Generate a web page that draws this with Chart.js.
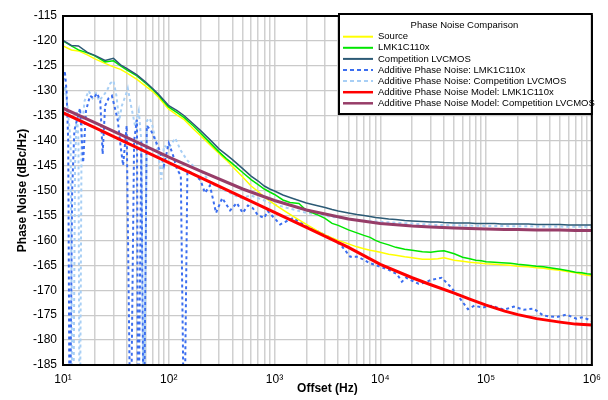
<!DOCTYPE html>
<html><head><meta charset="utf-8">
<script src="https://cdn.jsdelivr.net/npm/chart.js@4.4.1/dist/chart.umd.min.js"></script>
<style>html,body{margin:0;padding:0;background:#fff}</style>
</head><body>
<canvas id="c" width="608" height="400"></canvas>
<script>
// ---------- DATA ----------
const legendTitle = 'Phase Noise Comparison';
const xTitle = 'Offset (Hz)';
const yTitle = 'Phase Noise (dBc/Hz)';
const xDecades = [10, 100, 1000, 10000, 100000, 1000000];
const xDecadeLabels = ['10\u00B9', '10\u00B2', '10\u00B3', '10\u2074', '10\u2075', '10\u2076'];

const measF = [10,12,14,17,20,25,30,35,40,50,60,70,80,90,
  100,120,140,170,200,250,300,350,400,500,600,700,800,900,
  1000,1200,1400,1700,2000,2500,3000,3500,4000,5000,6000,7000,8000,9000,
  10000,12000,14000,17000,20000,25000,30000,35000,40000,50000,60000,70000,80000,90000,
  100000,120000,140000,170000,200000,250000,300000,350000,400000,500000,600000,700000,800000,900000,1000000];

const sourceV = [-121.0,-121.8,-122.0,-122.8,-123.6,-124.5,-125.2,-125.7,-126.4,-127.7,-129.0,-130.1,-131.3,-132.6,
  -133.7,-134.9,-135.8,-137.6,-139.0,-141.0,-142.6,-143.9,-145.2,-147.3,-149.1,-150.2,-151.3,-152.1,
  -152.8,-153.9,-154.8,-155.9,-156.8,-158.0,-158.9,-159.5,-160.0,-160.7,-161.3,-161.7,-162.0,-162.2,
  -162.4,-162.8,-163.0,-163.3,-163.5,-163.8,-163.8,-163.7,-163.5,-164.0,-164.2,-164.4,-164.5,-164.6,
  -164.7,-164.8,-164.9,-165.0,-165.2,-165.3,-165.5,-165.6,-165.8,-166.0,-166.3,-166.5,-166.8,-167.0,-167.1];

const lmkV = [-120.0,-121.0,-121.8,-122.4,-123.0,-124.2,-124.0,-125.0,-125.8,-127.0,-128.4,-129.7,-130.9,-132.2,
  -133.3,-134.4,-135.4,-137.0,-138.5,-140.6,-142.3,-143.6,-144.6,-146.4,-147.8,-148.8,-149.7,-150.3,
  -150.8,-151.9,-152.4,-152.6,-154.0,-154.8,-155.6,-156.6,-157.0,-157.9,-158.5,-159.0,-159.4,-160.0,
  -160.4,-160.9,-161.4,-161.8,-162.0,-162.3,-162.4,-162.2,-162.1,-162.7,-163.4,-163.7,-164.0,-164.1,
  -164.3,-164.4,-164.5,-164.6,-164.8,-165.0,-165.2,-165.3,-165.5,-165.8,-166.1,-166.4,-166.5,-166.7,-166.8];

const compV = [-119.9,-120.9,-121.0,-122.3,-122.9,-123.9,-123.5,-124.8,-125.5,-126.8,-128.2,-129.5,-130.7,-131.9,
  -133.0,-134.0,-135.0,-136.6,-138.0,-140.0,-141.7,-142.8,-143.8,-145.6,-147.1,-148.1,-149.1,-149.7,
  -150.1,-150.9,-151.4,-152.0,-152.5,-153.0,-153.4,-153.8,-154.1,-154.5,-154.8,-155.0,-155.2,-155.4,
  -155.5,-155.7,-155.8,-156.0,-156.1,-156.2,-156.3,-156.3,-156.4,-156.5,-156.5,-156.5,-156.6,-156.6,
  -156.6,-156.6,-156.7,-156.7,-156.7,-156.7,-156.8,-156.8,-156.8,-156.8,-156.9,-156.9,-156.9,-156.9,-156.9];

const addLmkF = [10,10.4,10.8,11.2,11.55,11.6,11.65,12.2,12.8,13.5,14.5,15.5,16.5,18,19.5,21,22.5,23.7,25,27,29,31,33,35,37,40,
  43.4,43.6,43.8,47,50,51.3,51.5,51.7,55,57.8,58,58.2,62,68,75,82,90,100,110,120,130,139.5,140,140.5,150,165,180,200,220,245,280,320,380,440,500,560,620,700,800,
  860,1130,1500,1860,2500,3570,4300,5200,6200,7800,10000,12000,14400,16000,17500,20500,23000,26000,30600,38000,47100,54200,67300,77600,92700,111000,148000,183000,227000,282000,349000,465000,575000,714000,824000,953000,1000000];
const addLmkV = [-128,-126,-130,-140,-200,-200,-200,-150,-138,-136,-133.5,-144.4,-134,-131,-131.5,-130.5,-132,-142.7,-133,-131.5,-131,-133.5,-136,-141,-145,-137,
  -200,-200,-200,-140,-135.8,-200,-200,-200,-140,-200,-200,-200,-137,-138,-140,-142,-145,-140.5,-143,-145.8,-147,-200,-200,-200,-146,-146.5,-147,-148,-150.5,-149,-154.5,-151.5,-154,-152.5,-154.5,-153,-153.5,-155,-155.5,
  -154.1,-156.8,-155.5,-156.8,-158.1,-159.7,-161.1,-163.3,-163.3,-164.5,-165.3,-165.9,-166.8,-168.3,-167.5,-168.2,-168.7,-168.5,-167.9,-167.5,-169.5,-171.1,-173.8,-173.1,-173.5,-173.1,-173.9,-173.3,-173.9,-173.7,-175.1,-175.4,-174.9,-175.7,-175.4,-176.0,-176.2];

const addCompF = [10,10.5,11,11.8,12.3,12.4,12.5,13,13.5,14,14.35,14.4,14.45,15,16,17.5,19,20.5,22,24,26,28,30,32,34,36,39,41,44,48,52,55,57.8,58,58.2,62,66,70,75,80,85,90,
  100,115,130,150,180,210,250,300,380,470,600,800,1000,2000,3570,7310,15000,33000,100000,300000,1000000];
const addCompV = [-131,-129,-133,-140,-200,-200,-200,-145,-134,-140,-200,-200,-200,-138,-132,-130,-131.5,-130.5,-132,-131,-130,-128.5,-128,-131,-136,-133,-131,-129.5,-133,-137,-134,-140,-200,-200,-200,-136,-135.5,-137,-140,-143,-147.8,-141,
  -141.5,-139.5,-142,-144,-145.5,-146.5,-148.5,-149.5,-150.5,-151.5,-151,-152,-152.8,-154.5,-155.3,-156.1,-156.5,-156.9,-157.1,-157.2,-157.3];

const modelF = [10,20,50,100,200,500,1000,2000,5000,10000,20000,30000,50000,70000,100000,150000,200000,300000,500000,700000,1000000];
const modelLmkV = [-134.4,-137.4,-141.4,-144.4,-147.4,-151.4,-154.4,-157.4,-161.4,-164.8,-167.5,-168.9,-170.6,-171.8,-173.0,-174.2,-174.9,-175.7,-176.4,-176.8,-177.0];
const modelCompV = [-133.5,-136.4,-140.3,-143.3,-146.1,-149.7,-152.0,-153.9,-155.7,-156.6,-157.1,-157.3,-157.5,-157.6,-157.7,-157.8,-157.8,-157.9,-157.9,-158.0,-158.0];

const seriesLabels = ['Source','LMK1C110x','Competition LVCMOS','Additive Phase Noise: LMK1C110x','Additive Phase Noise: Competition LVCMOS','Additive Phase Noise Model: LMK1C110x','Additive Phase Noise Model: Competition LVCMOS'];

// ---------- CHART ----------
const pts = (F, V) => F.map((f, i) => ({x: f, y: V[i]}));
const FONT = '"Liberation Sans", Arial, sans-serif';
Chart.defaults.font.family = FONT;
Chart.defaults.color = '#000';

const mk = (label, F, V, color, width, dash, order) => ({
  label, data: pts(F, V), borderColor: color, backgroundColor: color, borderWidth: width,
  borderDash: dash, pointRadius: 0, tension: 0, fill: false, order, clip: 0
});

const datasets = [
  mk(seriesLabels[0], measF, sourceV, '#ffff00', 1.5, [], 4),
  mk(seriesLabels[1], measF, lmkV, '#00e600', 1.5, [], 3),
  mk(seriesLabels[2], measF, compV, '#2c5a75', 1.5, [], 2),
  mk(seriesLabels[3], addLmkF, addLmkV, '#3b6ef0', 2, [3, 3], 5),
  mk(seriesLabels[4], addCompF, addCompV, '#a8cff5', 2, [3, 3], 6),
  mk(seriesLabels[5], modelF, modelLmkV, '#ff0000', 3, [], 0),
  mk(seriesLabels[6], modelF, modelCompV, '#973d68', 3, [], 1)
];

const framePlugin = {
  id: 'frame',
  afterDatasetsDraw(chart) {
    const {ctx, chartArea: a} = chart;
    ctx.save();
    ctx.strokeStyle = '#000'; ctx.lineWidth = 2;
    ctx.strokeRect(a.left, a.top, a.right - a.left, a.bottom - a.top);
    ctx.restore();
  }
};

const legendPlugin = {
  id: 'boxLegend',
  afterDraw(chart) {
    const {ctx, chartArea: a} = chart;
    const L = 339, T = 14, R = a.right, B = 114;
    ctx.save();
    ctx.fillStyle = '#fff';
    ctx.fillRect(L, T, R - L, B - T);
    ctx.strokeStyle = '#000'; ctx.lineWidth = 2;
    ctx.strokeRect(L, T, R - L, B - T);
    ctx.font = '9.5px ' + FONT;
    ctx.fillStyle = '#000'; ctx.textBaseline = 'middle';
    ctx.textAlign = 'center';
    ctx.fillText(legendTitle, (L + R) / 2 - 1, 25.5);
    ctx.textAlign = 'left';
    chart.data.datasets.forEach((ds, i) => {
      const y = 36.7 + i * 11.1;
      ctx.strokeStyle = ds.borderColor;
      ctx.lineWidth = ds.borderWidth >= 3 ? 2.5 : 2;
      ctx.setLineDash(ds.borderDash && ds.borderDash.length ? [4, 3] : []);
      ctx.beginPath(); ctx.moveTo(343, y); ctx.lineTo(373, y); ctx.stroke();
      ctx.setLineDash([]);
      ctx.fillStyle = '#000';
      ctx.fillText(ds.label, 378, y);
    });
    ctx.restore();
  }
};

new Chart(document.getElementById('c'), {
  type: 'line',
  data: {datasets},
  plugins: [framePlugin, legendPlugin],
  options: {
    responsive: false,
    animation: false,
    layout: {padding: {top: 16, right: 9, left: 0, bottom: 0}},
    plugins: {legend: {display: false}, tooltip: {enabled: false}},
    scales: {
      x: {
        type: 'logarithmic', min: 10, max: 1000000,
        afterBuildTicks: (s) => {
          const t = [];
          xDecades.forEach((d, k) => {
            const top = k === xDecades.length - 1 ? 1 : 9;
            for (let m = 1; m <= top; m++) t.push({value: m * d});
          });
          s.ticks = t;
        },
        afterFit: (s) => { s.height = 35; },
        ticks: {
          autoSkip: false, maxRotation: 0, padding: 7,
          font: {size: 12},
          callback: (v) => { const k = xDecades.indexOf(v); return k >= 0 ? xDecadeLabels[k] : ''; }
        },
        grid: {color: '#d0d0d0', lineWidth: 1.5, drawTicks: false},
        border: {color: '#000', width: 2},
        title: {display: true, text: xTitle, font: {size: 12, weight: 'bold'}, padding: {bottom: 4, top: 0}}
      },
      y: {
        min: -185, max: -115,
        afterFit: (s) => { s.width = 63; },
        ticks: {stepSize: 5, padding: 6, font: {size: 12}},
        grid: {color: '#cacaca', lineWidth: 1.2, drawTicks: false},
        border: {color: '#000', width: 2},
        title: {display: true, text: yTitle, font: {size: 12, weight: 'bold'}, padding: {top: 15, bottom: 0}}
      }
    }
  }
});
</script>
</body></html>
